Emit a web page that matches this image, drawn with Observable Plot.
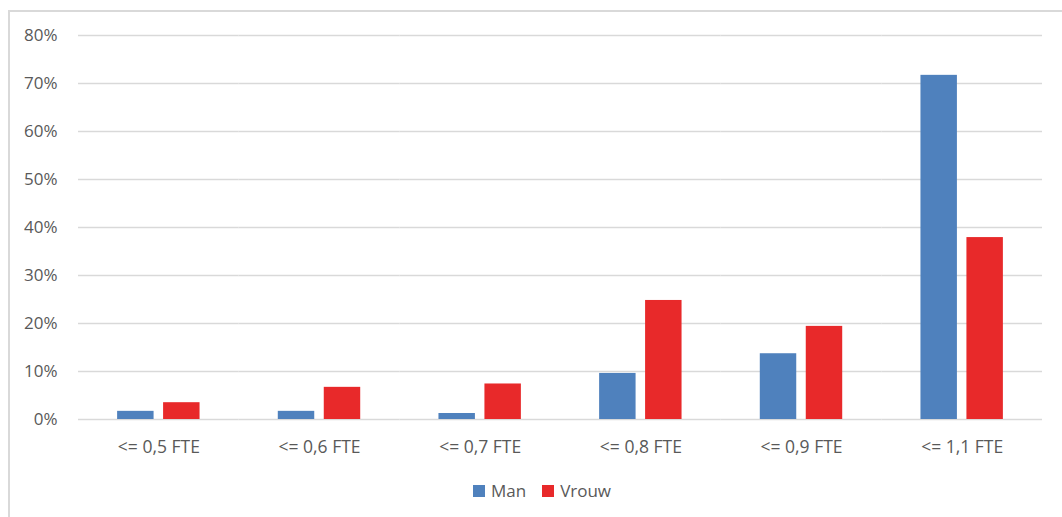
<!DOCTYPE html>
<html>
<head>
<meta charset="utf-8">
<script src="https://cdn.jsdelivr.net/npm/d3@7"></script>
<script src="https://cdn.jsdelivr.net/npm/@observablehq/plot@0.6"></script>
<style>
  html, body { margin: 0; padding: 0; background: #fff; }
  body { width: 1062px; height: 517px; position: relative; overflow: hidden; font-family: "Open Sans", sans-serif; }
  #frame { position: absolute; left: 8px; top: 10px; width: 1080px; height: 540px; border: 2px solid #d9d9d9; box-sizing: border-box; }
  #chart { position: absolute; left: 0; top: 0; }
  #legend { position: absolute; left: 0; width: 1084px; top: 479px; display: flex; justify-content: center; gap: 16px; font-size: 17px; color: #595959; }
  #legend .item { display: flex; align-items: center; gap: 6px; }
  #legend .sw { width: 12px; height: 12px; display: inline-block; }
</style>
</head>
<body>
<div id="frame"></div>
<div id="chart"></div>
<div id="legend"></div>
<script>
// Share of employees per FTE class, by sex (percent)
const categories = ["<= 0,5 FTE", "<= 0,6 FTE", "<= 0,7 FTE", "<= 0,8 FTE", "<= 0,9 FTE", "<= 1,1 FTE"];
const series = ["Man", "Vrouw"];
const man = [1.7, 1.7, 1.25, 9.6, 13.7, 71.7];
const vrouw = [3.5, 6.7, 7.4, 24.8, 19.4, 37.9];
const yTicks = [0, 10, 20, 30, 40, 50, 60, 70, 80];
const colors = ["#4f81bd", "#e8292a"];

const rows = [];
categories.forEach((c, i) => {
  rows.push({cat: c, sex: "Man", value: man[i]});
  rows.push({cat: c, sex: "Vrouw", value: vrouw[i]});
});

const chart = Plot.plot({
  width: 1062,
  height: 470,
  marginTop: 35,
  marginBottom: 51,
  marginLeft: 78,
  marginRight: 20,
  style: {fontFamily: "'Open Sans', sans-serif", fontSize: "17px", color: "#595959", background: "transparent"},
  fx: {domain: categories, padding: 0, label: null, round: false},
  x: {domain: series, paddingInner: 0.207, paddingOuter: 0.851, axis: null, round: false},
  y: {domain: [0, 80], label: null},
  color: {domain: series, range: colors},
  marks: [
    Plot.ruleY(yTicks, {stroke: "#d9d9d9", strokeWidth: 1.5, strokeOpacity: 1}),
    Plot.axisY(yTicks, {tickSize: 0, tickPadding: 21, tickFormat: d => d + "%", label: null, fill: "#595959"}),
    Plot.axisFx({anchor: "bottom", tickSize: 0, tickPadding: 21, label: null, fill: "#595959", fontSize: 17.5}),
    Plot.barY(rows, {fx: "cat", x: "sex", y: "value", fill: "sex", insetLeft: 0, insetRight: 0})
  ]
});
document.getElementById("chart").appendChild(chart);

const legend = document.getElementById("legend");
series.forEach((s, i) => {
  const item = document.createElement("span");
  item.className = "item";
  const sw = document.createElement("span");
  sw.className = "sw";
  sw.style.background = colors[i];
  const label = document.createElement("span");
  label.textContent = s;
  item.appendChild(sw);
  item.appendChild(label);
  legend.appendChild(item);
});
</script>
</body>
</html>
